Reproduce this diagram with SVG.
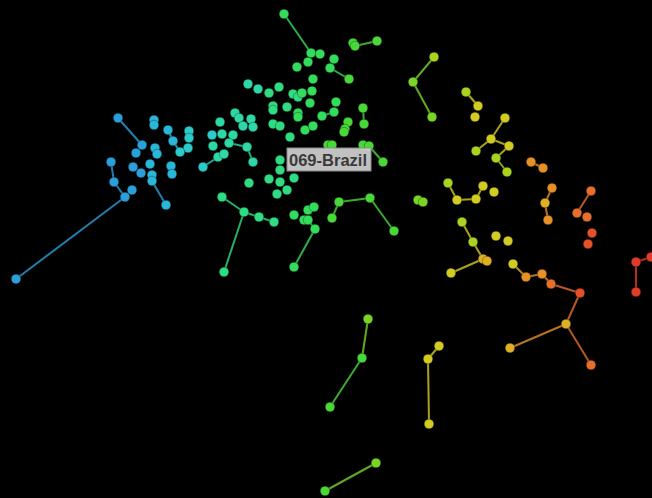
<svg xmlns="http://www.w3.org/2000/svg" width="652" height="498" viewBox="0 0 652 498">
<style>
.n circle{r:4.8px;stroke:#000;stroke-opacity:0.3;stroke-width:1}
.c0{fill:#2a9fd9}.c1{fill:#2bb6d9}.c2{fill:#2ccbc9}.c3{fill:#2ed8a6}.c4{fill:#30dc82}.c5{fill:#34dc5c}.c6{fill:#48d838}.c7{fill:#7ad428}.c8{fill:#a8d420}.c9{fill:#d2cc22}.c10{fill:#e0b024}.c11{fill:#e69028}.c12{fill:#e6702a}.c13{fill:#e4502a}.c14{fill:#e03a28}
#edges line{stroke-width:2;opacity:0.8}
.s0{stroke:#2a9fd9}.s1{stroke:#2bb6d9}.s2{stroke:#2ccbc9}.s3{stroke:#2ed8a6}.s4{stroke:#30dc82}.s5{stroke:#34dc5c}.s6{stroke:#48d838}.s7{stroke:#7ad428}.s8{stroke:#a8d420}.s9{stroke:#d2cc22}.s10{stroke:#e0b024}.s11{stroke:#e69028}.s12{stroke:#e6702a}.s14{stroke:#e03a28}
</style>
<rect width="652" height="498" fill="#000"/>
<g id="edges">
<line class="s0" x1="118" y1="118" x2="142" y2="145"/>
<line class="s0" x1="111" y1="162" x2="114" y2="182"/>
<line class="s0" x1="114" y1="182" x2="125" y2="197"/>
<line class="s0" x1="125" y1="197" x2="16" y2="279"/>
<line class="s0" x1="152" y1="181" x2="166" y2="205"/>
<line class="s1" x1="168" y1="130" x2="173" y2="141"/>
<line class="s1" x1="173" y1="141" x2="180" y2="152"/>
<line class="s2" x1="203" y1="167" x2="218" y2="157"/>
<line class="s3" x1="247" y1="147" x2="253" y2="162"/>
<line class="s3" x1="229" y1="143" x2="247" y2="147"/>
<line class="s5" x1="284" y1="14" x2="311" y2="53"/>
<line class="s5" x1="330" y1="68" x2="349" y2="79"/>
<line class="s6" x1="355" y1="46" x2="377" y2="41"/>
<line class="s5" x1="322" y1="116" x2="334" y2="112"/>
<line class="s6" x1="363" y1="108" x2="364" y2="124"/>
<line class="s6" x1="348" y1="122" x2="345" y2="129"/>
<line class="s6" x1="369" y1="146" x2="383" y2="162"/>
<line class="s4" x1="222" y1="197" x2="244" y2="212"/>
<line class="s4" x1="244" y1="212" x2="224" y2="272"/>
<line class="s4" x1="244" y1="212" x2="259" y2="217"/>
<line class="s4" x1="259" y1="217" x2="274" y2="222"/>
<line class="s5" x1="308" y1="220" x2="315" y2="229"/>
<line class="s5" x1="315" y1="229" x2="294" y2="267"/>
<line class="s6" x1="339" y1="202" x2="332" y2="218"/>
<line class="s6" x1="339" y1="202" x2="370" y2="198"/>
<line class="s6" x1="370" y1="198" x2="394" y2="231"/>
<line class="s7" x1="368" y1="319" x2="362" y2="358"/>
<line class="s6" x1="362" y1="358" x2="330" y2="407"/>
<line class="s7" x1="376" y1="463" x2="325" y2="491"/>
<line class="s7" x1="434" y1="57" x2="413" y2="82"/>
<line class="s7" x1="413" y1="82" x2="432" y2="117"/>
<line class="s9" x1="466" y1="92" x2="478" y2="106"/>
<line class="s9" x1="505" y1="118" x2="491" y2="139"/>
<line class="s9" x1="491" y1="139" x2="476" y2="151"/>
<line class="s9" x1="491" y1="139" x2="509" y2="146"/>
<line class="s9" x1="509" y1="146" x2="496" y2="158"/>
<line class="s8" x1="496" y1="158" x2="507" y2="172"/>
<line class="s9" x1="448" y1="183" x2="457" y2="200"/>
<line class="s9" x1="457" y1="200" x2="476" y2="199"/>
<line class="s9" x1="476" y1="199" x2="483" y2="186"/>
<line class="s9" x1="462" y1="222" x2="473" y2="242"/>
<line class="s9" x1="473" y1="242" x2="483" y2="259"/>
<line class="s9" x1="483" y1="259" x2="451" y2="273"/>
<line class="s9" x1="439" y1="346" x2="428" y2="359"/>
<line class="s9" x1="428" y1="359" x2="429" y2="424"/>
<line class="s11" x1="531" y1="162" x2="543" y2="168"/>
<line class="s11" x1="552" y1="188" x2="545" y2="203"/>
<line class="s11" x1="545" y1="203" x2="548" y2="220"/>
<line class="s12" x1="591" y1="191" x2="577" y2="213"/>
<line class="s10" x1="513" y1="264" x2="526" y2="277"/>
<line class="s11" x1="526" y1="277" x2="542" y2="274"/>
<line class="s11" x1="542" y1="274" x2="551" y2="284"/>
<line class="s12" x1="551" y1="284" x2="580" y2="293"/>
<line class="s12" x1="580" y1="293" x2="566" y2="324"/>
<line class="s11" x1="566" y1="324" x2="510" y2="348"/>
<line class="s12" x1="566" y1="324" x2="591" y2="365"/>
<line class="s14" x1="636" y1="262" x2="651" y2="257"/>
<line class="s14" x1="636" y1="262" x2="636" y2="292"/>
</g>
<g class="n">
<g id="B1"><circle class="c0" cx="118" cy="118"/></g>
<g id="B2"><circle class="c0" cx="142" cy="145"/></g>
<g id="B3"><circle class="c1" cx="154" cy="120"/></g>
<g id="B4"><circle class="c1" cx="154" cy="125"/></g>
<g id="B5"><circle class="c1" cx="168" cy="130"/></g>
<g id="B6"><circle class="c2" cx="189" cy="131"/></g>
<g id="B7"><circle class="c2" cx="189" cy="138"/></g>
<g id="B8"><circle class="c1" cx="173" cy="141"/></g>
<g id="B9"><circle class="c2" cx="188" cy="148"/></g>
<g id="B10"><circle class="c2" cx="180" cy="152"/></g>
<g id="B11"><circle class="c1" cx="155" cy="148"/></g>
<g id="B12"><circle class="c1" cx="157" cy="154"/></g>
<g id="B13"><circle class="c0" cx="136" cy="153"/></g>
<g id="B14"><circle class="c0" cx="111" cy="162"/></g>
<g id="B15"><circle class="c1" cx="150" cy="164"/></g>
<g id="B16"><circle class="c0" cx="133" cy="167"/></g>
<g id="B17"><circle class="c0" cx="141" cy="173"/></g>
<g id="B18"><circle class="c1" cx="171" cy="166"/></g>
<g id="B19"><circle class="c1" cx="172" cy="174"/></g>
<g id="B20"><circle class="c1" cx="152" cy="175"/></g>
<g id="B21"><circle class="c1" cx="152" cy="181"/></g>
<g id="B22"><circle class="c0" cx="114" cy="182"/></g>
<g id="B23"><circle class="c0" cx="132" cy="190"/></g>
<g id="B24"><circle class="c0" cx="125" cy="197"/></g>
<g id="B25"><circle class="c1" cx="166" cy="205"/></g>
<g id="B26"><circle class="c0" cx="16" cy="279"/></g>
<g id="T1"><circle class="c2" cx="203" cy="167"/></g>
<g id="T2"><circle class="c3" cx="218" cy="157"/></g>
<g id="T3"><circle class="c3" cx="224" cy="154"/></g>
<g id="T4"><circle class="c2" cx="212" cy="135"/></g>
<g id="T5"><circle class="c3" cx="222" cy="134"/></g>
<g id="T6"><circle class="c3" cx="233" cy="135"/></g>
<g id="T7"><circle class="c3" cx="220" cy="122"/></g>
<g id="T8"><circle class="c3" cx="235" cy="113"/></g>
<g id="T9"><circle class="c3" cx="239" cy="118"/></g>
<g id="T10"><circle class="c3" cx="243" cy="126"/></g>
<g id="T11"><circle class="c3" cx="251" cy="119"/></g>
<g id="T12"><circle class="c3" cx="253" cy="127"/></g>
<g id="T13"><circle class="c3" cx="213" cy="146"/></g>
<g id="T14"><circle class="c3" cx="229" cy="143"/></g>
<g id="T15"><circle class="c3" cx="247" cy="147"/></g>
<g id="T16"><circle class="c3" cx="253" cy="162"/></g>
<g id="T17"><circle class="c3" cx="248" cy="84"/></g>
<g id="T18"><circle class="c3" cx="258" cy="89"/></g>
<g id="T19"><circle class="c4" cx="269" cy="93"/></g>
<g id="T20"><circle class="c4" cx="279" cy="87"/></g>
<g id="G1"><circle class="c5" cx="284" cy="14"/></g>
<g id="G2"><circle class="c5" cx="311" cy="53"/></g>
<g id="G3"><circle class="c5" cx="320" cy="54"/></g>
<g id="G4"><circle class="c5" cx="334" cy="59"/></g>
<g id="G5"><circle class="c5" cx="308" cy="62"/></g>
<g id="G6"><circle class="c5" cx="297" cy="67"/></g>
<g id="G7"><circle class="c5" cx="330" cy="68"/></g>
<g id="G8"><circle class="c6" cx="349" cy="79"/></g>
<g id="G9"><circle class="c6" cx="353" cy="43"/></g>
<g id="G10"><circle class="c6" cx="355" cy="46"/></g>
<g id="G11"><circle class="c6" cx="377" cy="41"/></g>
<g id="G12"><circle class="c5" cx="313" cy="79"/></g>
<g id="G13"><circle class="c4" cx="293" cy="94"/></g>
<g id="G14"><circle class="c4" cx="298" cy="97"/></g>
<g id="G15"><circle class="c5" cx="302" cy="93"/></g>
<g id="G16"><circle class="c5" cx="312" cy="91"/></g>
<g id="G17"><circle class="c4" cx="273" cy="106"/></g>
<g id="G18"><circle class="c4" cx="273" cy="110"/></g>
<g id="G19"><circle class="c4" cx="287" cy="107"/></g>
<g id="G20"><circle class="c5" cx="310" cy="103"/></g>
<g id="G21"><circle class="c5" cx="298" cy="113"/></g>
<g id="G22"><circle class="c5" cx="298" cy="117"/></g>
<g id="G23"><circle class="c5" cx="336" cy="102"/></g>
<g id="G24"><circle class="c5" cx="334" cy="112"/></g>
<g id="G25"><circle class="c5" cx="322" cy="116"/></g>
<g id="G26"><circle class="c6" cx="363" cy="108"/></g>
<g id="G27"><circle class="c6" cx="348" cy="122"/></g>
<g id="G28"><circle class="c6" cx="345" cy="129"/></g>
<g id="G29"><circle class="c6" cx="364" cy="124"/></g>
<g id="G30"><circle class="c4" cx="273" cy="124"/></g>
<g id="G31"><circle class="c4" cx="280" cy="126"/></g>
<g id="G32"><circle class="c5" cx="305" cy="130"/></g>
<g id="G33"><circle class="c5" cx="313" cy="126"/></g>
<g id="G34"><circle class="c4" cx="290" cy="137"/></g>
<g id="G35"><circle class="c6" cx="344" cy="132"/></g>
<g id="G36"><circle class="c6" cx="328" cy="145"/></g>
<g id="G37"><circle class="c6" cx="332" cy="145"/></g>
<g id="G38"><circle class="c6" cx="363" cy="145"/></g>
<g id="G39"><circle class="c6" cx="369" cy="146"/></g>
<g id="G40"><circle class="c6" cx="383" cy="162"/></g>
<g id="G41"><circle class="c4" cx="280" cy="160"/></g>
<g id="G42"><circle class="c4" cx="280" cy="170"/></g>
<g id="G43"><circle class="c4" cx="294" cy="178"/></g>
<g id="G44"><circle class="c4" cx="269" cy="179"/></g>
<g id="G45"><circle class="c4" cx="249" cy="183"/></g>
<g id="G46"><circle class="c4" cx="280" cy="182"/></g>
<g id="G47"><circle class="c4" cx="287" cy="190"/></g>
<g id="G48"><circle class="c4" cx="277" cy="194"/></g>
<g id="G49"><circle class="c4" cx="222" cy="197"/></g>
<g id="G50"><circle class="c4" cx="244" cy="212"/></g>
<g id="G51"><circle class="c4" cx="259" cy="217"/></g>
<g id="G52"><circle class="c4" cx="274" cy="222"/></g>
<g id="G53"><circle class="c4" cx="224" cy="272"/></g>
<g id="G54"><circle class="c5" cx="294" cy="215"/></g>
<g id="G55"><circle class="c5" cx="308" cy="210"/></g>
<g id="G56"><circle class="c5" cx="314" cy="207"/></g>
<g id="G57"><circle class="c5" cx="304" cy="220"/></g>
<g id="G58"><circle class="c5" cx="308" cy="220"/></g>
<g id="G59"><circle class="c5" cx="315" cy="229"/></g>
<g id="G60"><circle class="c5" cx="294" cy="267"/></g>
<g id="G61"><circle class="c6" cx="339" cy="202"/></g>
<g id="G62"><circle class="c6" cx="332" cy="218"/></g>
<g id="G63"><circle class="c6" cx="370" cy="198"/></g>
<g id="G64"><circle class="c6" cx="394" cy="231"/></g>
<g id="G65"><circle class="c7" cx="418" cy="200"/></g>
<g id="G66"><circle class="c7" cx="423" cy="202"/></g>
<g id="L1"><circle class="c7" cx="368" cy="319"/></g>
<g id="L2"><circle class="c6" cx="362" cy="358"/></g>
<g id="L3"><circle class="c6" cx="330" cy="407"/></g>
<g id="L4"><circle class="c7" cx="376" cy="463"/></g>
<g id="L5"><circle class="c6" cx="325" cy="491"/></g>
<g id="Y1"><circle class="c8" cx="434" cy="57"/></g>
<g id="Y2"><circle class="c7" cx="413" cy="82"/></g>
<g id="Y3"><circle class="c7" cx="432" cy="117"/></g>
<g id="Y4"><circle class="c8" cx="466" cy="92"/></g>
<g id="Y5"><circle class="c9" cx="478" cy="106"/></g>
<g id="Y6"><circle class="c9" cx="475" cy="117"/></g>
<g id="Y7"><circle class="c9" cx="505" cy="118"/></g>
<g id="Y8"><circle class="c9" cx="491" cy="139"/></g>
<g id="Y9"><circle class="c8" cx="476" cy="151"/></g>
<g id="Y10"><circle class="c9" cx="509" cy="146"/></g>
<g id="Y11"><circle class="c8" cx="496" cy="158"/></g>
<g id="Y12"><circle class="c8" cx="507" cy="172"/></g>
<g id="Y13"><circle class="c8" cx="448" cy="183"/></g>
<g id="Y14"><circle class="c9" cx="457" cy="200"/></g>
<g id="Y15"><circle class="c9" cx="476" cy="199"/></g>
<g id="Y16"><circle class="c9" cx="483" cy="186"/></g>
<g id="Y17"><circle class="c9" cx="494" cy="192"/></g>
<g id="Y18"><circle class="c8" cx="462" cy="222"/></g>
<g id="Y19"><circle class="c8" cx="473" cy="242"/></g>
<g id="Y20"><circle class="c10" cx="483" cy="259"/></g>
<g id="Y21"><circle class="c10" cx="487" cy="261"/></g>
<g id="Y22"><circle class="c9" cx="451" cy="273"/></g>
<g id="Y23"><circle class="c9" cx="496" cy="236"/></g>
<g id="Y24"><circle class="c9" cx="508" cy="241"/></g>
<g id="Y25"><circle class="c9" cx="513" cy="264"/></g>
<g id="Y26"><circle class="c9" cx="439" cy="346"/></g>
<g id="Y27"><circle class="c9" cx="428" cy="359"/></g>
<g id="Y28"><circle class="c9" cx="429" cy="424"/></g>
<g id="O1"><circle class="c11" cx="531" cy="162"/></g>
<g id="O2"><circle class="c11" cx="543" cy="168"/></g>
<g id="O3"><circle class="c11" cx="552" cy="188"/></g>
<g id="O4"><circle class="c10" cx="545" cy="203"/></g>
<g id="O5"><circle class="c11" cx="548" cy="220"/></g>
<g id="O6"><circle class="c12" cx="591" cy="191"/></g>
<g id="O7"><circle class="c12" cx="577" cy="213"/></g>
<g id="O8"><circle class="c12" cx="587" cy="217"/></g>
<g id="O9"><circle class="c13" cx="592" cy="233"/></g>
<g id="O10"><circle class="c13" cx="588" cy="244"/></g>
<g id="O11"><circle class="c11" cx="526" cy="277"/></g>
<g id="O12"><circle class="c11" cx="542" cy="274"/></g>
<g id="O13"><circle class="c12" cx="551" cy="284"/></g>
<g id="O14"><circle class="c13" cx="580" cy="293"/></g>
<g id="O15"><circle class="c10" cx="566" cy="324"/></g>
<g id="O16"><circle class="c10" cx="510" cy="348"/></g>
<g id="O17"><circle class="c12" cx="591" cy="365"/></g>
<g id="R1"><circle class="c14" cx="636" cy="262"/></g>
<g id="R2"><circle class="c14" cx="651" cy="257"/></g>
<g id="R3"><circle class="c14" cx="636" cy="292"/></g>
</g>
<g id="label">
<rect x="287" y="148" width="84" height="23" fill="#d6d6d6" fill-opacity="0.9" stroke="#8a8a8a" stroke-width="1"/>
<text x="289" y="165.5" font-family="'Liberation Sans', Arial, sans-serif" font-size="16" font-weight="bold" fill="#3a3a3a" textLength="78" lengthAdjust="spacingAndGlyphs">069-Brazil</text>
</g>
</svg>
